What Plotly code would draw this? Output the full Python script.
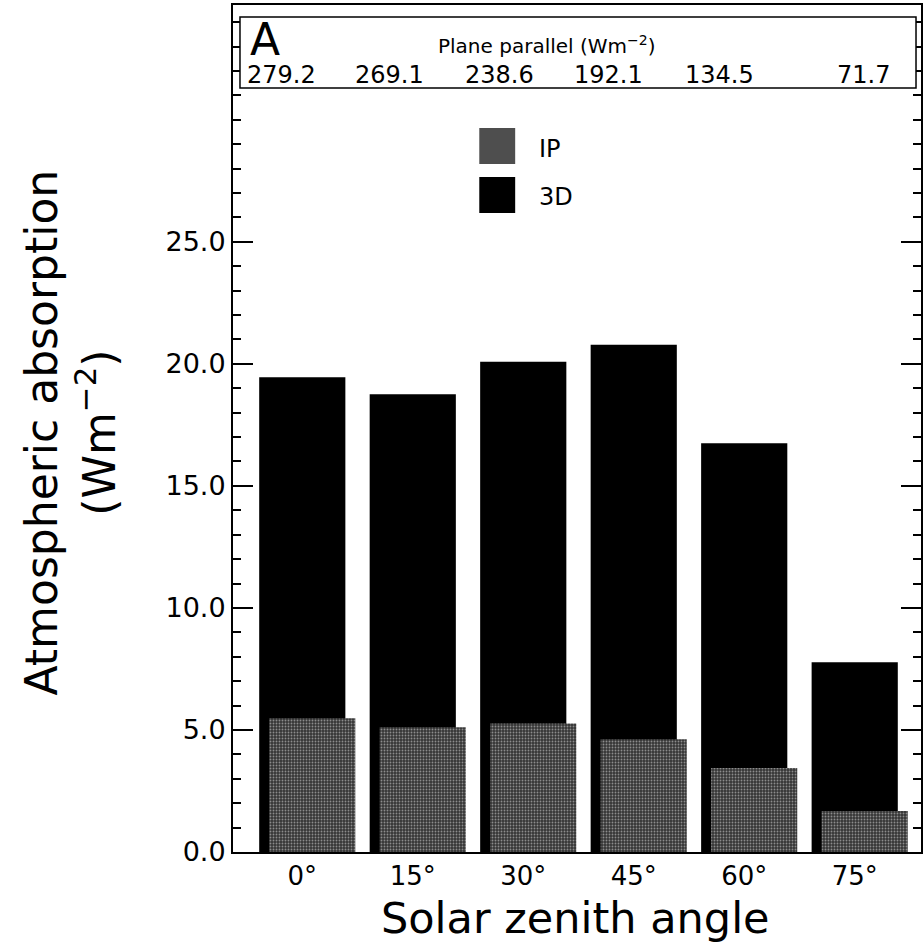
import plotly.graph_objects as go

# ---- data ----
angles = ["0°", "15°", "30°", "45°", "60°", "75°"]
ip_values = [5.48, 5.11, 5.26, 4.62, 3.44, 1.68]
d3_values = [19.45, 18.75, 20.08, 20.78, 16.75, 7.77]
plane_parallel = ["279.2", "269.1", "238.6", "192.1", "134.5", "71.7"]
y_tickvals = [0, 5, 10, 15, 20, 25]
y_ticktext = ["0.0", "5.0", "10.0", "15.0", "20.0", "25.0"]

FONT = "DejaVu Sans"
W, H = 924, 944
L, R, T, B = 233, 923, 5, 852  # plot area in pixels


def px(xp):
    return (xp - L) / (R - L)


def py(yp):
    return (B - yp) / (B - T)


def note(text, x, y, size, xanchor="center", **kw):
    return dict(text=text, x=px(x), y=py(y), xref="paper", yref="paper",
                xanchor=xanchor, yanchor="middle", showarrow=False,
                font=dict(family=FONT, size=size, color="black"), **kw)


xpos = list(range(len(angles)))

fig = go.Figure()
fig.add_trace(go.Bar(
    x=xpos, y=d3_values, name="3D", width=0.78, offset=-0.39,
    marker=dict(color="black", line=dict(width=0)),
))
fig.add_trace(go.Bar(
    x=xpos, y=ip_values, name="IP", width=0.78, offset=-0.30,
    marker=dict(color="#383838", line=dict(width=0),
                pattern=dict(shape=".", fgcolor="#8c8c8c", bgcolor="#363636",
                             size=3, solidity=0.3, fillmode="replace")),
))

shapes = [
    # inner info box
    dict(type="rect", xref="paper", yref="paper",
         x0=px(240), x1=px(918), y0=py(88), y1=py(17),
         line=dict(color="black", width=1.5), fillcolor="white", layer="above"),
    # legend squares
    dict(type="rect", xref="paper", yref="paper",
         x0=px(480), x1=px(516), y0=py(164), y1=py(128),
         line=dict(width=0), fillcolor="#4e4e4e"),
    dict(type="rect", xref="paper", yref="paper",
         x0=px(480), x1=px(516), y0=py(213), y1=py(177),
         line=dict(width=0), fillcolor="black"),
]

annotations = [
    note("A", 265, 40, 44),
    note("Plane parallel (Wm<sup>−2</sup>)", 548, 45, 20),
    note("IP", 538, 149, 24, xanchor="left"),
    note("3D", 538, 197, 24, xanchor="left"),
    note("Solar zenith angle", 576, 918, 43),
    note("Atmospheric absorption<br>(Wm<sup>−2</sup>)", 70, 432, 44,
         textangle=-90),
]

pp_centers = [282, 390, 500, 610, 721, 865]
for txt, cx in zip(plane_parallel, pp_centers):
    annotations.append(note(txt, cx, 75, 24))

fig.update_layout(
    width=W, height=H,
    margin=dict(l=L, r=W - R, t=T, b=H - B, pad=0),
    paper_bgcolor="white", plot_bgcolor="white",
    barmode="overlay", showlegend=False,
    shapes=shapes, annotations=annotations,
    xaxis=dict(range=[-0.627, 5.6], tickvals=xpos, ticktext=angles,
               showline=True, linecolor="black", linewidth=2, mirror=True,
               ticks="", showgrid=False, zeroline=False,
               tickfont=dict(family=FONT, size=26, color="black")),
    yaxis=dict(range=[0, 34.7], tickvals=y_tickvals, ticktext=y_ticktext,
               showline=True, linecolor="black", linewidth=2, mirror="ticks",
               ticks="inside", ticklen=20, tickwidth=1.5, tickcolor="black",
               minor=dict(dtick=1, ticks="inside", ticklen=8, tickwidth=1.5,
                          tickcolor="black", showgrid=False),
               showgrid=False, zeroline=False,
               tickfont=dict(family=FONT, size=27, color="black")),
)

fig.write_html(
    "out.html",
    config={"displayModeBar": False},
    post_script="document.body.style.margin='0';"
                "document.body.style.overflow='hidden';",
)
